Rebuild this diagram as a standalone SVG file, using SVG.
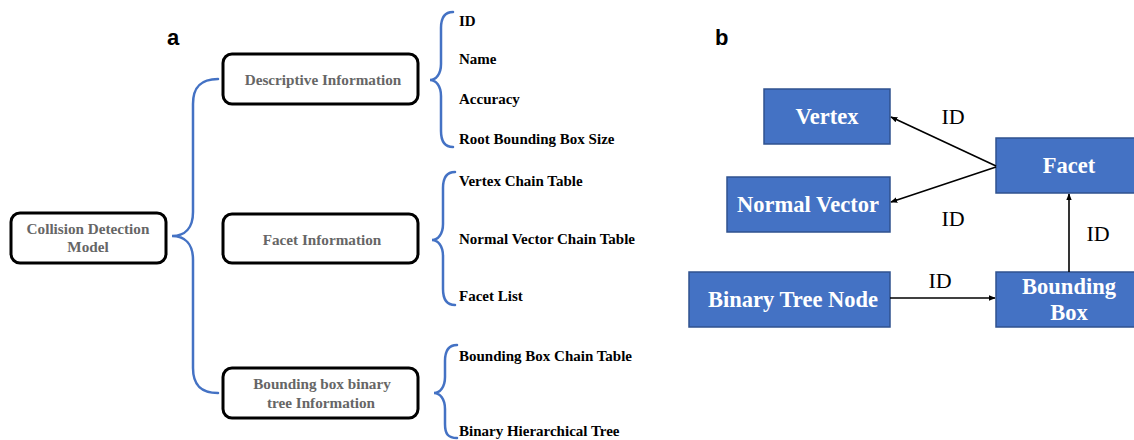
<svg xmlns="http://www.w3.org/2000/svg" width="1134" height="440" viewBox="0 0 1134 440">
  <style>
    .panel { font-family: "Liberation Sans", Arial, sans-serif; font-weight: bold; font-size: 22px; fill: #000; }
    .box { fill: #fff; stroke: #000; stroke-width: 3; }
    .boxtxt { font-family: "Liberation Serif", "Times New Roman", serif; font-weight: bold; font-size: 15.2px; fill: #666; text-anchor: middle; }
    .brace { fill: none; stroke: #4472C4; stroke-width: 2.5; stroke-linecap: round; }
    .item { font-family: "Liberation Serif", "Times New Roman", serif; font-weight: bold; font-size: 15px; fill: #000; }
    .blue { fill: #4472C4; stroke: #2F528F; stroke-width: 1.5; }
    .btxt { font-family: "Liberation Serif", "Times New Roman", serif; font-weight: bold; font-size: 22.5px; fill: #fff; text-anchor: middle; }
    .link { fill: none; stroke: #000; stroke-width: 1.6; marker-end: url(#arrow); }
    .lbl { font-family: "Liberation Serif", "Times New Roman", serif; font-size: 22px; fill: #000; text-anchor: middle; }
  </style>
  <defs>
    <marker id="arrow" viewBox="0 0 10 10" refX="9" refY="5" markerWidth="7" markerHeight="7" orient="auto" markerUnits="userSpaceOnUse">
      <path d="M0,1 L10,5 L0,9 z" fill="#000"/>
    </marker>
  </defs>

  <!-- panel a -->
  <text class="panel" x="167" y="45">a</text>

  <g id="braces-a">
    <path class="brace" d="M218,79 C200,79 193,88 193,104 L193,212 C193,228 185,236 172,236 C185,236 193,244 193,260 L193,368 C193,384 200,393 218,393"/>
    <path class="brace" d="M453,12 C444,12 441,18 441,28 L441,64 C441,74 436,80 430,80 C436,80 441,86 441,96 L441,131 C441,141 444,147 453,147"/>
    <path class="brace" d="M455,172 C446,172 443,178 443,188 L443,224 C443,234 438,240 432,240 C438,240 443,246 443,256 L443,289 C443,299 446,305 455,305"/>
    <path class="brace" d="M457,345 C448,345 445,351 445,361 L445,377 C445,387 440,393 434,393 C440,393 445,399 445,409 L445,424 C445,434 448,438 457,438"/>
  </g>

  <g id="collision-model">
    <rect class="box" x="11" y="213" width="155" height="50" rx="9"/>
    <text class="boxtxt" x="88" y="234">Collision Detection</text>
    <text class="boxtxt" x="88" y="252">Model</text>
  </g>

  <g id="descriptive-info">
    <rect class="box" x="223" y="54" width="195" height="50" rx="9"/>
    <text class="boxtxt" x="323" y="85">Descriptive Information</text>
  </g>

  <g id="facet-info">
    <rect class="box" x="223" y="214" width="195" height="49" rx="9"/>
    <text class="boxtxt" x="322" y="245">Facet Information</text>
  </g>

  <g id="bbtree-info">
    <rect class="box" x="223" y="368" width="195" height="50" rx="9"/>
    <text class="boxtxt" x="322" y="389">Bounding box binary</text>
    <text class="boxtxt" x="321" y="408">tree Information</text>
  </g>

  <g id="items">
    <text class="item" x="459" y="26">ID</text>
    <text class="item" x="459" y="64">Name</text>
    <text class="item" x="459" y="104">Accuracy</text>
    <text class="item" x="459" y="144">Root Bounding Box Size</text>
    <text class="item" x="459" y="186">Vertex Chain Table</text>
    <text class="item" x="459" y="244">Normal Vector Chain Table</text>
    <text class="item" x="459" y="301">Facet List</text>
    <text class="item" x="459" y="361">Bounding Box Chain Table</text>
    <text class="item" x="459" y="436">Binary Hierarchical Tree</text>
  </g>

  <!-- panel b -->
  <text class="panel" x="715" y="45">b</text>

  <g id="vertex">
    <rect class="blue" x="764" y="89" width="126" height="55"/>
    <text class="btxt" x="827" y="124">Vertex</text>
  </g>

  <g id="normal-vector">
    <rect class="blue" x="727" y="177" width="163" height="55"/>
    <text class="btxt" x="808" y="212">Normal Vector</text>
  </g>

  <g id="facet">
    <rect class="blue" x="996" y="138" width="146" height="55"/>
    <text class="btxt" x="1069" y="173">Facet</text>
  </g>

  <g id="binary-tree-node">
    <rect class="blue" x="689" y="272" width="201" height="55"/>
    <text class="btxt" x="793" y="307">Binary Tree Node</text>
  </g>

  <g id="bounding-box">
    <rect class="blue" x="996" y="272" width="146" height="55"/>
    <text class="btxt" x="1069" y="294">Bounding</text>
    <text class="btxt" x="1069" y="320">Box</text>
  </g>

  <g id="connectors">
    <path class="link" d="M996,166 L891,117"/>
    <path class="link" d="M996,167 L891,202"/>
    <path class="link" d="M890,298 L995,298"/>
    <path class="link" d="M1069,272 L1069,194"/>
    <text class="lbl" x="953" y="124">ID</text>
    <text class="lbl" x="953" y="226">ID</text>
    <text class="lbl" x="1098" y="241">ID</text>
    <text class="lbl" x="940" y="288">ID</text>
  </g>
</svg>
